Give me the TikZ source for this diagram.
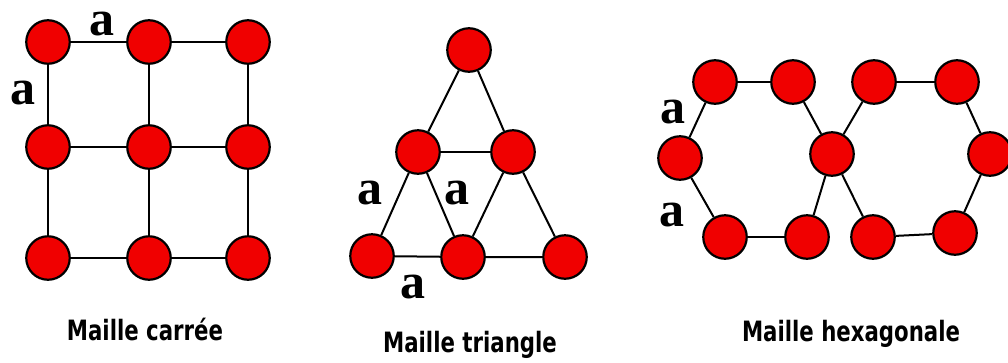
\documentclass[tikz,border=0pt]{standalone}
\usepackage{fontspec}
\setmainfont{Liberation Serif}
\newfontfamily\capfont{DejaVu Sans}
\definecolor{atomred}{RGB}{240,0,0}
\tikzset{
  atom/.style={circle, draw=black, fill=atomred, line width=2.2pt, minimum size=43.5pt, inner sep=0pt},
  bond/.style={line width=2pt},
  lbl/.style={font=\fontsize{50}{50}\selectfont\bfseries, inner sep=0pt},
  caption/.style={font=\capfont\fontsize{28}{28}\selectfont\bfseries, inner sep=0pt, xscale=0.76, transform shape}
}
\begin{document}
\begin{tikzpicture}[x=1pt, y=-1pt]
\useasboundingbox (0,0) rectangle (1008,362);
% square lattice
\node[atom] (s11) at (48,42) {};
\node[atom] (s12) at (149,42) {};
\node[atom] (s13) at (248,42) {};
\node[atom] (s21) at (48,147) {};
\node[atom] (s22) at (149,147) {};
\node[atom] (s23) at (248,147) {};
\node[atom] (s31) at (48,258) {};
\node[atom] (s32) at (149,258) {};
\node[atom] (s33) at (248,258) {};
\draw[bond] (s11) -- (s12) -- (s13);
\draw[bond] (s21) -- (s22) -- (s23);
\draw[bond] (s31) -- (s32) -- (s33);
\draw[bond] (s11) -- (s21) -- (s31);
\draw[bond] (s12) -- (s22) -- (s32);
\draw[bond] (s13) -- (s23) -- (s33);
\node[lbl] (sa1) at (102,24) {a};
\node[lbl] (sa2) at (23,93) {a};
\node[caption] (scap) at (145,329) {Maille carrée};

% triangular lattice
\node[atom] (t1) at (469,50) {};
\node[atom] (t21) at (418,152) {};
\node[atom] (t22) at (513,152) {};
\node[atom] (t31) at (372,256) {};
\node[atom] (t32) at (463,257) {};
\node[atom] (t33) at (565,257) {};
\draw[bond] (t1) -- (t21);
\draw[bond] (t1) -- (t22);
\draw[bond] (t21) -- (t22);
\draw[bond] (t21) -- (t31);
\draw[bond] (t21) -- (t32);
\draw[bond] (t22) -- (t32);
\draw[bond] (t22) -- (t33);
\draw[bond] (t31) -- (t32) -- (t33);
\node[lbl] (ta1) at (370,193) {a};
\node[lbl] (ta2) at (457,193) {a};
\node[lbl] (ta3) at (413,287) {a};
\node[caption] (tcap) at (470,345) {Maille triangle};

% hexagonal lattice
\node[atom] (h1) at (715,82) {};
\node[atom] (h2) at (793,82) {};
\node[atom] (h3) at (874,82) {};
\node[atom] (h4) at (957,82) {};
\node[atom] (h5) at (680,158) {};
\node[atom] (h6) at (832,154) {};
\node[atom] (h7) at (990,154) {};
\node[atom] (h8) at (725,237) {};
\node[atom] (h9) at (807,237) {};
\node[atom] (h10) at (873,237) {};
\node[atom] (h11) at (955,233) {};
\draw[bond] (h1) -- (h2);
\draw[bond] (h3) -- (h4);
\draw[bond] (h8) -- (h9);
\draw[bond] (h10) -- (h11);
\draw[bond] (h1) -- (h5) -- (h8);
\draw[bond] (h2) -- (h6) -- (h9);
\draw[bond] (h3) -- (h6) -- (h10);
\draw[bond] (h4) -- (h7) -- (h11);
\node[lbl] (ha1) at (673,112) {a};
\node[lbl] (ha2) at (672,215) {a};
\node[caption] (hcap) at (851,334) {Maille hexagonale};
\end{tikzpicture}
\end{document}
